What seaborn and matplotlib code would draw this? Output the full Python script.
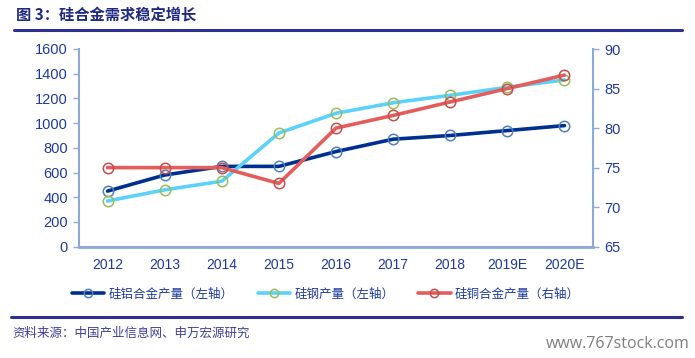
import matplotlib
matplotlib.use("Agg")
import matplotlib.pyplot as plt
import seaborn as sns
import pandas as pd
from matplotlib.lines import Line2D

years = ["2012", "2013", "2014", "2015", "2016", "2017", "2018", "2019E", "2020E"]
si_al = [450, 580, 650, 650, 770, 870, 900, 940, 980]          # 硅铝合金产量（左轴）
si_steel = [370, 460, 530, 920, 1080, 1165, 1225, 1290, 1350]   # 硅钢产量（左轴）
si_cu = [75, 75, 75, 73, 80, 81.6, 83.3, 85, 86.7]              # 硅铜合金产量（右轴）

names = ["硅铝合金产量（左轴）", "硅钢产量（左轴）", "硅铜合金产量（右轴）"]
title = "图 3：硅合金需求稳定增长"
source = "资料来源：中国产业信息网、申万宏源研究"
watermark = "www.767stock.com"

sns.set_theme(style="white")
plt.rcParams["font.family"] = ["Liberation Sans", "Noto Sans CJK SC", "DejaVu Sans"]

df = pd.DataFrame({"year": years, "al": si_al, "steel": si_steel, "cu": si_cu})

fig = plt.figure(figsize=(6.95, 3.58), dpi=100)
ax = fig.add_axes([79/695, 1-246.7/358, (593-79)/695, (246.7-49)/358])
ax2 = ax.twinx()

tick_col = "#1F3A9E"
spine_col = "#8EA9D6"

c_al, e_al = "#00308F", "#4F81BD"
c_st, e_st = "#5AD2FA", "#9BBB59"
c_cu, e_cu = "#E35D5D", "#C0504D"

lw = 2.6
ms = 7.5
sns.lineplot(data=df, x="year", y="al", ax=ax, color=c_al, linewidth=lw, sort=False,
             marker="o", markersize=ms, markerfacecolor="none", markeredgecolor=e_al, markeredgewidth=1.1)
sns.lineplot(data=df, x="year", y="steel", ax=ax, color=c_st, linewidth=lw, sort=False,
             marker="o", markersize=ms, markerfacecolor="none", markeredgecolor=e_st, markeredgewidth=1.1)
sns.lineplot(data=df, x="year", y="cu", ax=ax2, color=c_cu, linewidth=lw, sort=False,
             marker="o", markersize=ms, markerfacecolor="none", markeredgecolor=e_cu, markeredgewidth=1.1)

ax.set_ylim(0, 1600)
ax.set_yticks(range(0, 1601, 200))
ax2.set_ylim(65, 90)
ax2.set_yticks(range(65, 91, 5))
ax.set_xlim(-0.5, len(years) - 0.5)
ax.set_xlabel("")
ax.set_ylabel("")
ax2.set_ylabel("")
ax.grid(False)
ax2.grid(False)

# x ticks: labels at categories, tick marks between categories
ax.set_xticks(range(len(years)))
ax.set_xticklabels(years)
ax.set_xticks([i + 0.5 for i in range(-1, len(years))], minor=True)
ax.tick_params(axis="x", which="major", length=0, pad=8, labelsize=10, labelcolor=tick_col)
ax.tick_params(axis="x", which="minor", length=4, width=1, color=spine_col, direction="out")
ax.tick_params(axis="y", length=4, width=1, color=spine_col, direction="out", labelsize=10.5,
               labelcolor=tick_col, pad=4)
ax2.tick_params(axis="y", length=4, width=1, color=spine_col, direction="out", labelsize=10.5,
                labelcolor=tick_col, pad=4)

for a in (ax, ax2):
    a.spines["top"].set_visible(False)
    for s in ("left", "right", "bottom"):
        a.spines[s].set_color(spine_col)
        a.spines[s].set_linewidth(1.5)
ax.spines["right"].set_visible(False)
ax2.spines["left"].set_visible(False)
ax2.spines["bottom"].set_linewidth(2)

# legend
handles = [
    Line2D([], [], color=c_al, lw=lw, marker="o", ms=6, mfc="none", mec=e_al, mew=1.1),
    Line2D([], [], color=c_st, lw=lw, marker="o", ms=6, mfc="none", mec=e_st, mew=1.1),
    Line2D([], [], color=c_cu, lw=lw, marker="o", ms=6, mfc="none", mec=e_cu, mew=1.1),
]
leg = fig.legend(handles, names, loc="center", bbox_to_anchor=(326/695, 1-294/358), ncol=3,
                 frameon=False, handlelength=2.6, columnspacing=1.9, handletextpad=0.35,
                 prop={"family": ["Noto Sans CJK SC"], "size": 9})
for t in leg.get_texts():
    t.set_color(tick_col)

# title and rules
fig.text(16/695, 1-16/358, title, fontsize=11, fontweight="bold", color="#1F2A80",
         family=["Noto Sans CJK SC", "DejaVu Sans"], va="center", ha="left")
fig.add_artist(Line2D([14/695, 682/695], [1-29.5/358, 1-29.5/358], color="#2E3192", lw=2.2))
fig.add_artist(Line2D([11/695, 682/695], [1-316.5/358, 1-316.5/358], color="#2E3192", lw=2.2))
fig.text(12/695, 1-333/358, source, fontsize=9, color="#3F3F9A",
         family=["Noto Sans CJK SC", "DejaVu Sans"], va="center", ha="left")
fig.text(690/695, 1-344/358, watermark, fontsize=11.5, color="#7F7F7F",
         family=["Open Sans", "DejaVu Sans"], va="center", ha="right")

fig.savefig("out.png", dpi=100)
